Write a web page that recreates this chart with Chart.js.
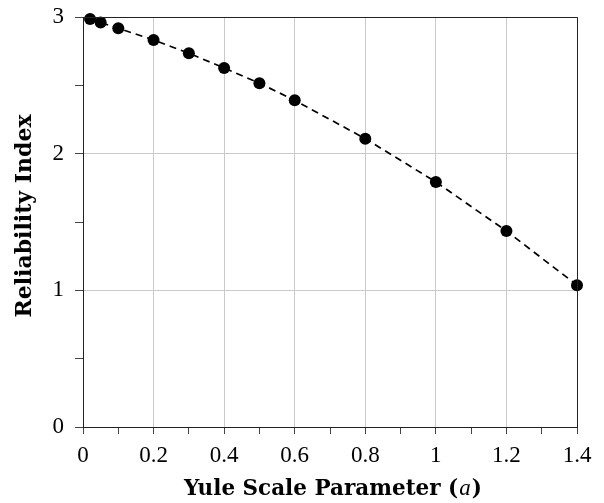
<!DOCTYPE html>
<html>
<head>
<meta charset="utf-8">
<script src="https://cdn.jsdelivr.net/npm/chart.js@4/dist/chart.umd.min.js"></script>
<style>
  html, body { margin: 0; padding: 0; background: #fff; }
  #wrap { width: 604px; height: 503px; }
</style>
</head>
<body>
<div id="wrap"><canvas id="c" width="604" height="503"></canvas></div>
<script>
// Yule scale parameter a and the reliability index obtained for it
const scaleParam = [0.02, 0.05, 0.1, 0.2, 0.3, 0.4, 0.5, 0.6, 0.8, 1.0, 1.2, 1.4];
const reliability = [2.985, 2.96, 2.917, 2.832, 2.735, 2.627, 2.516, 2.39, 2.11, 1.793, 1.434, 1.038];

const xLabel = ['Yule Scale Parameter (', 'a', ')'];
const yLabel = 'Reliability Index';

const SERIF = '"Liberation Serif", "DejaVu Serif", serif';
const TITLE_SERIF = '"DejaVu Serif", "Liberation Serif", serif';
const GRID = '#cacaca';
const AXIS = '#222';

// box frame and axis titles (x title has an italic symbol)
const framePlugin = {
  id: 'frame',
  afterDatasetsDraw(chart) {
    const { ctx, chartArea: a } = chart;
    ctx.save();
    ctx.strokeStyle = AXIS;
    ctx.lineWidth = 1;
    ctx.beginPath();
    ctx.moveTo(a.left, a.top + 0.5);
    ctx.lineTo(a.right + 0.5, a.top + 0.5);
    ctx.lineTo(a.right + 0.5, a.bottom);
    ctx.stroke();
    ctx.restore();
  },
  afterDraw(chart) {
    const { ctx, chartArea: a } = chart;
    ctx.save();
    ctx.fillStyle = '#000';
    ctx.textBaseline = 'middle';
    // x title
    const fb = 'bold 21.5px ' + TITLE_SERIF;
    const fi = 'italic 23px ' + SERIF;
    ctx.font = fb; const w0 = ctx.measureText(xLabel[0]).width;
    ctx.font = fi; const w1 = ctx.measureText(xLabel[1]).width;
    ctx.font = fb; const w2 = ctx.measureText(xLabel[2]).width;
    let x = (a.left + a.right) / 2 + 3 - (w0 + w1 + w2 + 2) / 2;
    const y = 489;
    ctx.textAlign = 'left';
    ctx.font = fb; ctx.fillText(xLabel[0], x, y); x += w0 + 1;
    ctx.font = fi; ctx.fillText(xLabel[1], x, y); x += w1 + 1;
    ctx.font = fb; ctx.fillText(xLabel[2], x, y);
    // y title
    ctx.translate(25, (a.top + a.bottom) / 2 - 6);
    ctx.rotate(-Math.PI / 2);
    ctx.textAlign = 'center';
    ctx.font = 'bold 22px ' + TITLE_SERIF;
    ctx.fillText(yLabel, 0, 0);
    ctx.restore();
  }
};

const isMajor = (v, step) => Math.abs(Math.round(v / step) * step - v) < 1e-6;

new Chart(document.getElementById('c'), {
  type: 'scatter',
  data: {
    datasets: [{
      data: scaleParam.map((v, i) => ({ x: v, y: reliability[i] })),
      showLine: true,
      borderColor: '#000',
      borderWidth: 1.7,
      borderDash: [7, 5],
      pointRadius: 6,
      pointHoverRadius: 6,
      pointBackgroundColor: '#000',
      pointBorderWidth: 0,
      clip: false
    }]
  },
  options: {
    responsive: false,
    animation: false,
    devicePixelRatio: 1,
    layout: { padding: { top: 17, right: 27, left: 0, bottom: 0 } },
    plugins: { legend: { display: false }, tooltip: { enabled: false } },
    scales: {
      x: {
        type: 'linear',
        min: 0, max: 1.4,
        afterFit(s) { s.height = 76; s.paddingLeft = 0; s.paddingRight = 0; },
        border: { display: true, color: AXIS, width: 1 },
        grid: {
          color: c => isMajor(c.tick.value, 0.2) && c.tick.value > 0 ? GRID : 'rgba(0,0,0,0)',
          tickColor: '#444',
          tickLength: 7,
          lineWidth: 1
        },
        ticks: {
          stepSize: 0.1,
          autoSkip: false,
          maxRotation: 0,
          padding: 8,
          color: '#000',
          font: { family: SERIF, size: 23 },
          callback: v => isMajor(v, 0.2) ? String(Math.round(v * 10) / 10) : ''
        }
      },
      y: {
        type: 'linear',
        min: 0, max: 3,
        afterFit(s) { s.width = 83; s.paddingTop = 0; s.paddingBottom = 0; },
        border: { display: true, color: AXIS, width: 1 },
        grid: {
          color: c => isMajor(c.tick.value, 1) && c.tick.value > 0 && c.tick.value < 3 ? GRID : 'rgba(0,0,0,0)',
          tickColor: '#444',
          tickLength: 8,
          lineWidth: 1
        },
        ticks: {
          stepSize: 0.5,
          autoSkip: false,
          padding: 11,
          color: '#000',
          font: { family: SERIF, size: 23, lineHeight: 0.5 },
          callback: v => isMajor(v, 1) ? String(Math.round(v)) : ''
        }
      }
    }
  },
  plugins: [framePlugin]
});
</script>
</body>
</html>
